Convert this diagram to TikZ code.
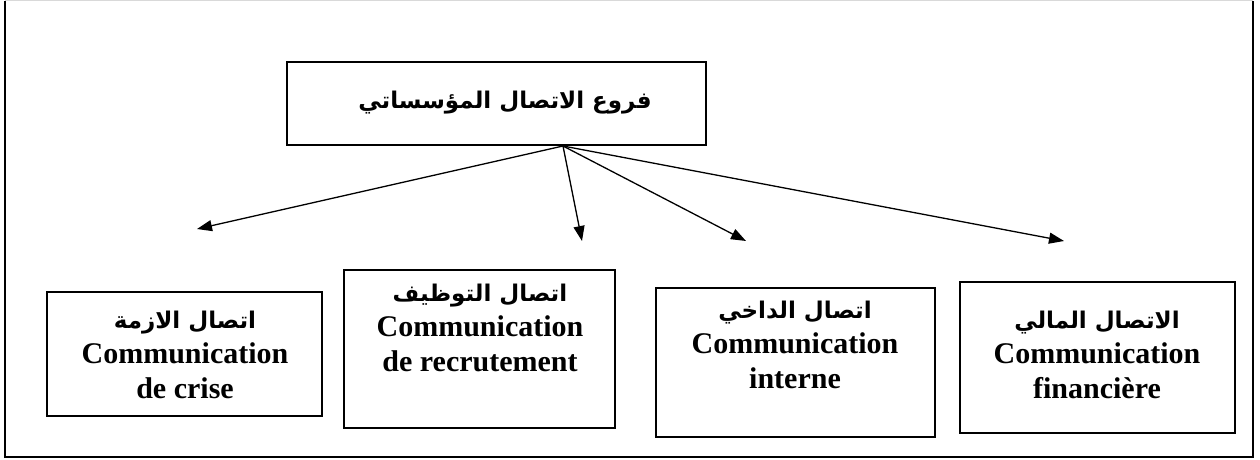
\documentclass[tikz,border=0pt]{standalone}
\usepackage{fontspec}
\setmainfont{Liberation Serif}
\newfontfamily\arabicfont[Script=Arabic]{DejaVu Sans}
\TeXXeTstate=1
\usetikzlibrary{arrows.meta}
\tikzset{
  boxst/.style={draw=black, line width=1.7pt, rectangle, inner sep=0pt},
  txt/.style={align=center, font=\bfseries\fontsize{30}{35}\selectfont},
  arr/.style={line width=1.3pt, -{Triangle[length=15pt,width=11pt]}},
}
\newcommand{\ar}[1]{{\arabicfont\bfseries\fontsize{23}{35}\selectfont\beginR #1\endR}}
\begin{document}
\begin{tikzpicture}[x=1pt,y=-1pt]
\useasboundingbox (0,0) rectangle (1260,460);
\draw[black!15, line width=1pt] (5,1) -- (1253,1);
\draw[line width=1.7pt] (5,1) -- (5,457) -- (1253,457) -- (1253,1);
% top box
\node[boxst, minimum width=419pt, minimum height=83pt] (top) at (496.5,103.5) {};
\node[font=\fontsize{25}{30}\selectfont] (toptxt) at (505,103) {\ar{فروع الاتصال المؤسساتي}};
\coordinate (src) at (563,146);
% boxes
\node[boxst, minimum width=275pt, minimum height=124pt] (b1) at (184.5,354) {};
\node[boxst, minimum width=271pt, minimum height=158pt] (b2) at (479.5,349) {};
\node[boxst, minimum width=279pt, minimum height=149pt] (b3) at (795.5,362.5) {};
\node[boxst, minimum width=275pt, minimum height=151pt] (b4) at (1097.5,357.5) {};
\node[txt] (t1) at (185,355) {\ar{اتصال الازمة}\\Communication\\de crise};
\node[txt] (t2) at (480,328) {\ar{اتصال  التوظيف}\\Communication\\de recrutement};
\node[txt] (t3) at (795,345) {\ar{اتصال  الداخي}\\Communication\\interne};
\node[txt] (t4) at (1097,355) {\ar{الاتصال المالي}\\Communication\\financière};
% arrows
\coordinate (e1) at (197,229);
\coordinate (e2) at (582,241);
\coordinate (e3) at (746,241);
\coordinate (e4) at (1064,241);
\draw[arr] (src) -- (e1);
\draw[arr] (src) -- (e2);
\draw[arr] (src) -- (e3);
\draw[arr] (src) -- (e4);
\end{tikzpicture}
\end{document}
